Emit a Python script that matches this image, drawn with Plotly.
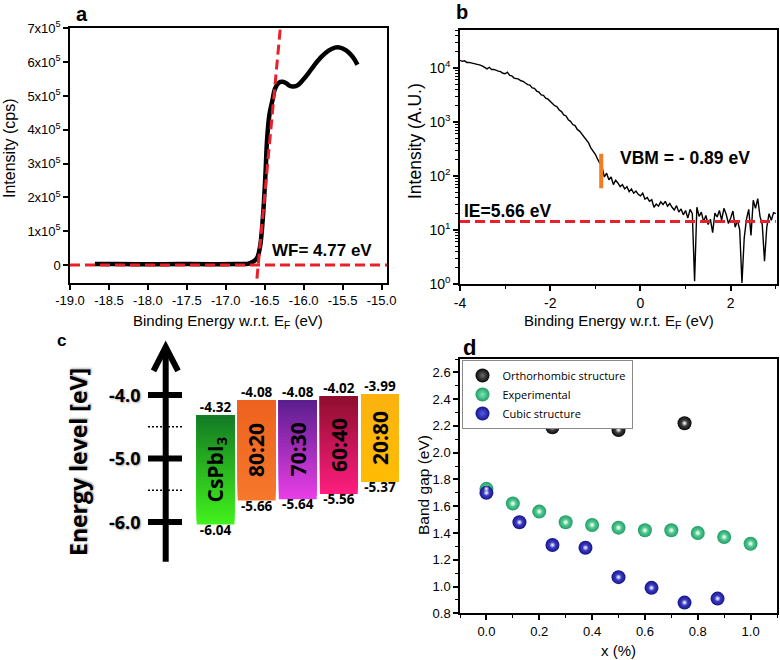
import numpy as np
import plotly.graph_objects as go

W, H = 780, 660
def fx(p): return p / W
def fy(p): return 1 - p / H

FONT = "Liberation Sans, Arial, sans-serif"
CFONT = "Open Sans, Noto Sans, sans-serif"

# ---------------- Panel a : work function cut-off ----------------
a_energy = [-18.68, -18.40, -18.00, -17.60, -17.20, -16.85, -16.71, -16.65, -16.60, -16.56,
            -16.52, -16.49, -16.47, -16.44, -16.40, -16.37, -16.32, -16.27, -16.22, -16.18,
            -16.13, -16.07, -16.01, -15.94, -15.86, -15.77, -15.68, -15.60, -15.53, -15.45,
            -15.39, -15.34, -15.31]
a_intensity = [3000, 3000, 2500, 3000, 2500, 3000, 4000, 10000, 20000, 54000,
               153000, 271000, 370000, 444000, 488000, 520000, 539000, 542000, 537000, 530000,
               528000, 533000, 547000, 567000, 592000, 616000, 634000, 643000, 643000, 634000,
               621000, 605000, 592000]
a_fit_energy = [-16.60, -16.30]
a_fit_intensity = [-40000, 700000]
a_base_energy = [-19.0, -14.93]
a_base_intensity = [0, 0]
a_xticks = [-19.0, -18.5, -18.0, -17.5, -17.0, -16.5, -16.0, -15.5, -15.0]
a_yticks = [0, 100000, 200000, 300000, 400000, 500000, 600000, 700000]
a_yticktext = ["0", "1x10<sup>5</sup>", "2x10<sup>5</sup>", "3x10<sup>5</sup>", "4x10<sup>5</sup>",
               "5x10<sup>5</sup>", "6x10<sup>5</sup>", "7x10<sup>5</sup>"]

# ---------------- Panel b : valence band edge (log10 intensity, 0.05 eV steps from -4 to 3) ----------------
b_log_intensity = [
    4.14, 4.12, 4.13, 4.10, 4.10, 4.09, 4.08, 4.08, 4.06, 4.05,
    4.03, 4.00, 3.98, 4.01, 3.97, 3.97, 3.95, 3.94, 3.93, 3.90,
    3.89, 3.92, 3.86, 3.85, 3.81, 3.80, 3.79, 3.76, 3.75, 3.72,
    3.69, 3.68, 3.63, 3.62, 3.57, 3.55, 3.50, 3.49, 3.44, 3.42,
    3.38, 3.35, 3.30, 3.28, 3.22, 3.19, 3.13, 3.11, 3.04, 3.01,
    2.95, 2.93, 2.86, 2.83, 2.77, 2.72, 2.65, 2.61, 2.52, 2.47,
    2.40, 2.31, 2.24, 2.16, 1.98, 2.05, 1.93, 1.98, 1.84, 1.92,
    1.87, 1.80, 1.84, 1.76, 1.80, 1.71, 1.76, 1.68, 1.72, 1.66,
    1.63, 1.68, 1.57, 1.60, 1.53, 1.56, 1.42, 1.48, 1.44, 1.52,
    1.47, 1.53, 1.44, 1.49, 1.42, 1.37, 1.45, 1.33, 1.39, 1.28,
    1.36, 1.22, 1.38, 1.30, 0.05, 1.42, 1.25, 1.33, 1.15, 1.27,
    1.10, 1.20, 0.95, 1.31, 1.24, 1.36, 1.18, 1.40, 1.29, 1.12,
    1.22, 1.35, 1.05, 1.18, 1.00, 0.02, 0.85, 1.20, 1.38, 0.90,
    1.55, 1.40, 1.58, 1.25, 1.10, 0.42, 1.05, 1.30, 1.18, 1.32,
    1.30]
b_energy = np.linspace(-4.0, 3.0, len(b_log_intensity))
b_intensity = 10 ** np.array(b_log_intensity)
b_ie_level = 14.4
b_vbm_energy = -0.87
b_vbm_span = [59, 257]
b_xticks = [-4, -2, 0, 2]
b_yticks = [1, 10, 100, 1000, 10000]
b_yticktext = ["10<sup>0</sup>", "10<sup>1</sup>", "10<sup>2</sup>", "10<sup>3</sup>", "10<sup>4</sup>"]

# ---------------- Panel c : energy level diagram ----------------
c_names = ["CsPbI3", "80:20", "70:30", "60:40", "20:80"]
c_labels = ["CsPbI<sub>3</sub>", "80:20", "70:30", "60:40", "20:80"]
c_top = [-4.32, -4.08, -4.08, -4.02, -3.99]
c_bottom = [-6.04, -5.66, -5.64, -5.56, -5.37]
c_color_top = ["#137a25", "#ee621f", "#5a1e8e", "#8e0d2e", "#fcb20e"]
c_color_bottom = ["#42f21c", "#f5782b", "#ea3ee6", "#ff1e80", "#ffbc05"]
c_scale_ticks = [-4.0, -5.0, -6.0]
c_scale_half = [-4.5, -5.5]

# ---------------- Panel d : band gap ----------------
d_orth_x = [0.25, 0.50, 0.75]
d_orth_y = [2.19, 2.17, 2.22]
d_exp_x = [0.0, 0.1, 0.2, 0.3, 0.4, 0.5, 0.6, 0.7, 0.8, 0.9, 1.0]
d_exp_y = [1.73, 1.62, 1.56, 1.48, 1.46, 1.44, 1.42, 1.42, 1.40, 1.37, 1.32]
d_cub_x = [0.0, 0.125, 0.25, 0.375, 0.5, 0.625, 0.75, 0.875]
d_cub_y = [1.70, 1.48, 1.31, 1.29, 1.07, 0.99, 0.88, 0.91]
d_xticks = [0.0, 0.2, 0.4, 0.6, 0.8, 1.0]
d_yticks = [0.8, 1.0, 1.2, 1.4, 1.6, 1.8, 2.0, 2.2, 2.4, 2.6]

RED = "#e8202a"

fig = go.Figure()

# panel a traces
fig.add_trace(go.Scatter(x=a_energy, y=a_intensity, mode="lines", line=dict(color="black", width=4.5, shape="spline"),
                         xaxis="x", yaxis="y", showlegend=False))
fig.add_trace(go.Scatter(x=a_base_energy, y=a_base_intensity, mode="lines",
                         line=dict(color=RED, width=3, dash="10px,5px"), xaxis="x", yaxis="y", showlegend=False))
fig.add_trace(go.Scatter(x=a_fit_energy, y=a_fit_intensity, mode="lines",
                         line=dict(color=RED, width=3, dash="10px,5px"), xaxis="x", yaxis="y", showlegend=False))

# panel b traces
fig.add_trace(go.Scatter(x=b_energy, y=b_intensity, mode="lines", line=dict(color="black", width=1.4),
                         xaxis="x2", yaxis="y2", showlegend=False))
fig.add_trace(go.Scatter(x=[-4.0, 3.0], y=[b_ie_level, b_ie_level], mode="lines",
                         line=dict(color=RED, width=3, dash="10px,5px"), xaxis="x2", yaxis="y2", showlegend=False))
fig.add_trace(go.Scatter(x=[b_vbm_energy, b_vbm_energy], y=b_vbm_span, mode="lines",
                         line=dict(color="#f47c20", width=4), xaxis="x2", yaxis="y2", showlegend=False))

# panel c bars: vertical gradient made of overlapping slices, each reaching the bar top
def hex2rgb(h):
    h = h.lstrip("#")
    return [int(h[i:i + 2], 16) for i in (0, 2, 4)]

N = 30
for k, name in enumerate(c_names):
    top, bot = c_top[k], c_bottom[k]
    step = (top - bot) / N
    ct, cb = hex2rgb(c_color_top[k]), hex2rgb(c_color_bottom[k])
    cols, bases, heights = [], [], []
    for i in range(N):
        t = (i + 0.5) / N
        c = [round(cb[j] + (ct[j] - cb[j]) * t) for j in range(3)]
        cols.append(f"rgb({c[0]},{c[1]},{c[2]})")
        bases.append(bot + i * step)
        heights.append(top - (bot + i * step))
    fig.add_trace(go.Bar(x=[name] * N, y=heights, base=bases, width=0.92,
                         marker=dict(color=cols, line=dict(width=0)),
                         xaxis="x4", yaxis="y4", showlegend=False, hoverinfo="skip"))

fig.add_trace(go.Scatter(x=c_names, y=c_top, mode="text", text=[f"{v:.2f}" for v in c_top],
                         textposition="top center",
                         textfont=dict(family=CFONT, size=13.5, color="black", weight="bold"),
                         xaxis="x4", yaxis="y4", showlegend=False))
fig.add_trace(go.Scatter(x=c_names, y=c_bottom, mode="text", text=[f"{v:.2f}" for v in c_bottom],
                         textposition="bottom center",
                         textfont=dict(family=CFONT, size=13.5, color="black", weight="bold"),
                         xaxis="x4", yaxis="y4", showlegend=False))

# panel d traces
def balls(x, y, name, color, center):
    fig.add_trace(go.Scatter(x=x, y=y, mode="markers", name=name,
                             marker=dict(size=14, color=color, gradient=dict(type="radial", color=center),
                                         line=dict(width=0)),
                             xaxis="x3", yaxis="y3"))

balls(d_orth_x, d_orth_y, "Orthorhombic structure", "#080808", "#6a6a6a")
balls(d_exp_x, d_exp_y, "Experimental", "#1e9e64", "#7fe8b6")
balls(d_cub_x, d_cub_y, "Cubic structure", "#14148c", "#5a5ae6")
for x, y in [(d_orth_x, d_orth_y), (d_exp_x, d_exp_y), (d_cub_x, d_cub_y)]:
    fig.add_trace(go.Scatter(x=x, y=y, mode="markers", showlegend=False, hoverinfo="skip",
                             marker=dict(size=6, color="rgba(255,255,255,0)",
                                         gradient=dict(type="radial", color="white"), line=dict(width=0)),
                             xaxis="x3", yaxis="y3"))

tickfont = dict(family=FONT, size=13, color="black")
base_ax = dict(showline=True, linecolor="black", linewidth=1.5, mirror=True, ticks="outside", ticklen=5,
               tickwidth=1.5, tickcolor="black", showgrid=False, zeroline=False, tickfont=tickfont)
minor_lin = lambda dt: dict(dtick=dt, tick0=0, ticks="outside", ticklen=3, tickwidth=1.2, tickcolor="black")

a_xr = [-19.0, -14.93]
a_yr = [-53000, 700000]
b_xr = [-4.0, 3.02]
b_yr = [0, 4.7]
d_xr = [-0.1, 1.1]
d_yr = [0.8, 2.7]

b_minor_y = [k * 10 ** d for d in range(0, 5) for k in range(2, 10)]

fig.update_layout(
    width=W, height=H, margin=dict(l=0, r=0, t=0, b=0, autoexpand=False), paper_bgcolor="white",
    plot_bgcolor="white",
    barmode="overlay", font=dict(family=FONT, color="black"),
    xaxis=dict(base_ax, domain=[fx(70), fx(387)], range=a_xr, anchor="y", tickvals=a_xticks,
               ticktext=[f"{v:.1f}" for v in a_xticks]),
    yaxis=dict(base_ax, domain=[fy(283), fy(28.3)], range=a_yr, anchor="x", tickvals=a_yticks, ticktext=a_yticktext),
    xaxis2=dict(base_ax, domain=[fx(460), fx(776.7)], range=b_xr, anchor="y2", tickvals=b_xticks,
                ticktext=[str(v) for v in b_xticks], tickfont=dict(family=FONT, size=14, color="black"),
                linewidth=2, minor=minor_lin(1)),
    yaxis2=dict(base_ax, domain=[fy(284), fy(30)], range=b_yr, type="log", anchor="x2", tickvals=b_yticks,
                ticktext=b_yticktext, tickfont=dict(family=FONT, size=14, color="black"),
                minor=dict(tickvals=b_minor_y, ticks="outside", ticklen=3, tickwidth=1.2, tickcolor="black")),
    xaxis3=dict(base_ax, domain=[fx(460), fx(777)], range=d_xr, anchor="y3", tickvals=d_xticks,
                ticktext=[f"{v:.1f}" for v in d_xticks], minor=minor_lin(0.1)),
    yaxis3=dict(base_ax, domain=[fy(613.3), fy(359)], range=d_yr, anchor="x3", tickvals=d_yticks,
                ticktext=[f"{v:.1f}" for v in d_yticks], minor=minor_lin(0.1)),
    xaxis4=dict(domain=[fx(195), fx(400.5)], range=[-0.5, 4.5], visible=False, anchor="y4", type="category"),
    yaxis4=dict(domain=[fy(570), fy(340)], range=[-6.756, -3.134], visible=False, anchor="x4"),
    legend=dict(x=fx(461.5), y=fy(360), xanchor="left", yanchor="top", bgcolor="white", bordercolor="#8a8a8a",
                borderwidth=1, font=dict(family=CFONT, size=11, color="black"), tracegroupgap=0,
                itemwidth=30),
    showlegend=True,
)

anns = []
def ann(text, x, y, size, bold=False, angle=0, xanchor="center", yanchor="middle", family=FONT,
        xref="paper", yref="paper", shadow=None):
    f = dict(family=family, size=size, color="black")
    if bold:
        f["weight"] = "bold"
    if shadow:
        f["shadow"] = shadow
    anns.append(dict(text=text, x=x, y=y, xref=xref, yref=yref, showarrow=False, textangle=angle,
                     xanchor=xanchor, yanchor=yanchor, font=f))

# panel letters
ann("a", fx(82), fy(14), 20, bold=True)
ann("b", fx(462), fy(12), 20, bold=True)
ann("c", fx(62), fy(340), 17, bold=True)
ann("d", fx(469), fy(347), 22, bold=True)

# axis titles
ann("Binding Energy w.r.t. E<sub>F</sub> (eV)", fx(228), fy(321), 15)
ann("Intensity (cps)", fx(9), fy(148), 16, angle=-90)
ann("Binding Energy w.r.t. E<sub>F</sub> (eV)", fx(618.5), fy(321), 15)
ann("Intensity (A.U.)", fx(415), fy(141), 17.5, angle=-90)
ann("Band gap (eV)", fx(423), fy(485), 15.5, angle=-90)
ann("x (%)", fx(618.5), fy(650), 15)

# in-plot labels
ann("WF= 4.77 eV", fx(270), fy(250), 17, bold=True, xanchor="left")
ann("VBM = - 0.89 eV", fx(618), fy(158), 17.5, bold=True, xanchor="left")
ann("IE=5.66 eV", fx(462), fy(211), 17.5, bold=True, xanchor="left")

# panel c texts
SH = "1px 1px 2px rgba(0,0,0,0.35)"
ann("Energy level [eV]", fx(78), fy(462), 23, bold=True, angle=-90, family=CFONT, shadow=SH)
for v in c_scale_ticks:
    ann(f"{v:.1f}", fx(143), v, 18, bold=True, xanchor="right", family=CFONT, yref="y4", shadow=SH)
for k, name in enumerate(c_names):
    ann(c_labels[k], name, (c_top[k] + c_bottom[k]) / 2, 21, bold=True, angle=-90, family=CFONT,
        xref="x4", yref="y4")
fig.update_layout(annotations=anns)

# panel c scale: arrow, thick ticks, dotted half ticks
shapes = []
shapes.append(dict(type="line", xref="paper", yref="y4", x0=fx(165.7), x1=fx(165.7), y0=-6.625, y1=-3.26,
                   line=dict(color="black", width=6)))
shapes.append(dict(type="path", xref="paper", yref="y4",
                   path=f"M {fx(153.5)},-3.62 L {fx(165.7)},-3.245 L {fx(178)},-3.62",
                   line=dict(color="black", width=6)))
for v in c_scale_ticks:
    shapes.append(dict(type="line", xref="paper", yref="y4", x0=fx(148), x1=fx(182), y0=v, y1=v,
                       line=dict(color="black", width=6)))
for v in c_scale_half:
    shapes.append(dict(type="line", xref="paper", yref="y4", x0=fx(148), x1=fx(183), y0=v, y1=v,
                       line=dict(color="black", width=1.5, dash="2px,2px")))
fig.update_layout(shapes=shapes)

fig.write_html("out.html", config={"displayModeBar": False},
               post_script="document.body.style.margin='0px';")
